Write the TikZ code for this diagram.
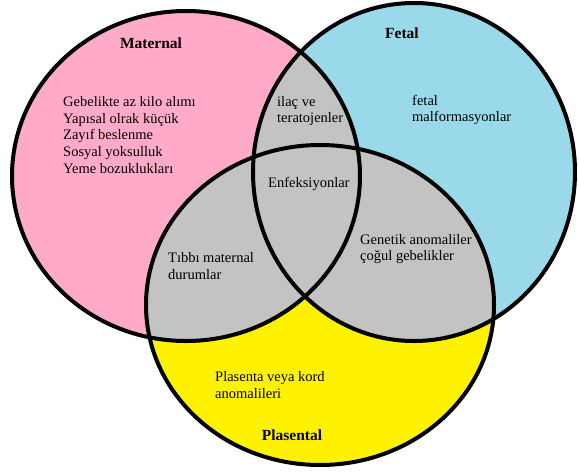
\documentclass[tikz,border=0pt]{standalone}
\usepackage{fontspec}
\setmainfont{Liberation Serif}
\definecolor{matpink}{HTML}{FFAAC8}
\definecolor{fetblue}{HTML}{99D9EA}
\definecolor{plsyellow}{HTML}{FFF200}
\definecolor{ortakgri}{HTML}{C3C3C3}
\begin{document}
\begin{tikzpicture}[x=1pt,y=-1pt,line join=round,line cap=round]
    \tikzset{ring/.style={draw=black,line width=4pt},
        lbl/.style={font=\fontsize{14.5}{16.7}\selectfont,inner sep=0pt,align=left,anchor=west},
        head/.style={font=\fontsize{15.5}{17}\selectfont\bfseries,inner sep=0pt}}
    %% yarıçaplar
    \def \mrx{174pt}
    \def \mry{165pt}
    \def \frx{161pt}
    \def \fry{169pt}
    \def \prx{174pt}
    \def \pry{160pt}
    \useasboundingbox (0,0) rectangle (578,472);
    \coordinate (M) at (186,176);
    \coordinate (F) at (414,172);
    \coordinate (P) at (320,305);
    \fill[matpink] (M) ellipse [x radius=\mrx, y radius=\mry];
    \fill[fetblue] (F) ellipse [x radius=\frx, y radius=\fry];
    \fill[plsyellow] (P) ellipse [x radius=\prx, y radius=\pry];
    % kesişimler
    \begin{scope}
        \clip (M) ellipse [x radius=\mrx, y radius=\mry];
        \fill[ortakgri] (F) ellipse [x radius=\frx, y radius=\fry];
        \fill[ortakgri] (P) ellipse [x radius=\prx, y radius=\pry];
    \end{scope}
    \begin{scope}
        \clip (F) ellipse [x radius=\frx, y radius=\fry];
        \fill[ortakgri] (P) ellipse [x radius=\prx, y radius=\pry];
    \end{scope}
    \draw[ring] (M) ellipse [x radius=\mrx, y radius=\mry];
    \draw[ring] (F) ellipse [x radius=\frx, y radius=\fry];
    \draw[ring] (P) ellipse [x radius=\prx, y radius=\pry];
    % yazılar
    \node[head] (maternal) at (151,43) {Maternal};
    \node[head] (fetal) at (402,33) {Fetal};
    \node[head] (plasental) at (292,435) {Plasental};
    \node[lbl] (annesel) at (63,135) {Gebelikte az kilo alımı\\Yapısal olrak küçük\\Zayıf beslenme\\Sosyal yoksulluk\\Yeme bozuklukları};
    \node[lbl] (ilac) at (277,111) {ilaç ve\\teratojenler};
    \node[lbl] (enfeksiyon) at (268,184) {Enfeksiyonlar};
    \node[lbl] (malform) at (412,110) {fetal\\malformasyonlar};
    \node[lbl] (tibbi) at (168,266) {Tıbbı maternal\\durumlar};
    \node[lbl] (genetik) at (360,249) {Genetik anomaliler\\çoğul gebelikler};
    \node[lbl] (kord) at (215,385) {Plasenta veya kord\\anomalileri};
\end{tikzpicture}
\end{document}
